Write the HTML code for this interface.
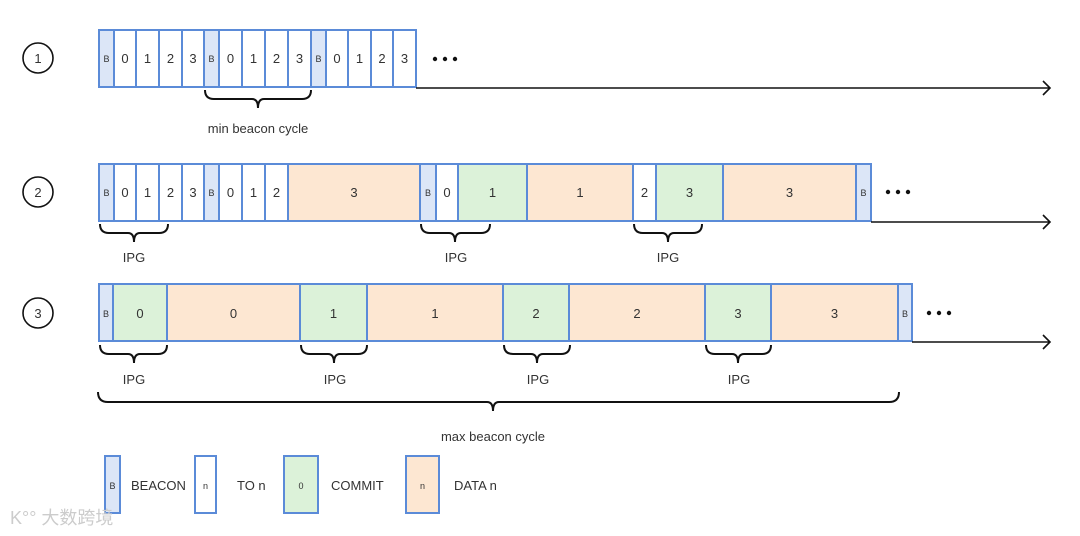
<!DOCTYPE html><html><head><meta charset="utf-8"><style>body{margin:0;background:#fff}svg{display:block}text{font-family:"Liberation Sans",sans-serif;fill:#333}</style></head><body>
<svg width="1080" height="536" viewBox="0 0 1080 536" xmlns="http://www.w3.org/2000/svg">
<defs><style>.c{stroke:#5b8bd8;stroke-width:2}.b{fill:#dce6f7}.w{fill:#fff}.g{fill:#dcf2d9}.o{fill:#fde7d2}.t{font-size:13px;text-anchor:middle}.s{font-size:9px;text-anchor:middle}.br{fill:none;stroke:#111;stroke-width:2}.ax{stroke:#111;stroke-width:1.6;fill:none}</style></defs>
<g fill="none" stroke="#111" stroke-width="1.6"><circle cx="38" cy="58" r="15"/><circle cx="38" cy="192" r="15"/><circle cx="38" cy="313" r="15"/></g>
<text x="38" y="63" class="t">1</text><text x="38" y="197" class="t">2</text><text x="38" y="318" class="t">3</text>
<!-- row1 -->
<g class="c">
<rect x="99" y="30" width="15" height="57" class="b"/><rect x="114" y="30" width="22" height="57" class="w"/><rect x="136" y="30" width="23" height="57" class="w"/><rect x="159" y="30" width="23" height="57" class="w"/><rect x="182" y="30" width="22" height="57" class="w"/>
<rect x="204" y="30" width="15" height="57" class="b"/><rect x="219" y="30" width="23" height="57" class="w"/><rect x="242" y="30" width="23" height="57" class="w"/><rect x="265" y="30" width="23" height="57" class="w"/><rect x="288" y="30" width="23" height="57" class="w"/>
<rect x="311" y="30" width="15" height="57" class="b"/><rect x="326" y="30" width="22" height="57" class="w"/><rect x="348" y="30" width="23" height="57" class="w"/><rect x="371" y="30" width="22" height="57" class="w"/><rect x="393" y="30" width="23" height="57" class="w"/>
</g>
<text x="106.5" y="62" class="s">B</text><text x="125" y="63" class="t">0</text><text x="147.5" y="63" class="t">1</text><text x="170.5" y="63" class="t">2</text><text x="193" y="63" class="t">3</text>
<text x="211.5" y="62" class="s">B</text><text x="230.5" y="63" class="t">0</text><text x="253.5" y="63" class="t">1</text><text x="276.5" y="63" class="t">2</text><text x="299.5" y="63" class="t">3</text>
<text x="318.5" y="62" class="s">B</text><text x="337" y="63" class="t">0</text><text x="359.5" y="63" class="t">1</text><text x="382" y="63" class="t">2</text><text x="404.5" y="63" class="t">3</text>
<g fill="#111"><circle cx="435" cy="59" r="2.2"/><circle cx="445" cy="59" r="2.2"/><circle cx="455" cy="59" r="2.2"/></g>
<path class="ax" d="M416 88 H1050 M1043 81 L1050 88 L1043 95"/>
<path class="br" d="M205 90 q0 9 9 9 H252 q6 0 6 9 q0 -9 6 -9 H302 q9 0 9 -9"/>
<text x="258" y="133" class="t">min beacon cycle</text>
<!-- row2 -->
<g class="c">
<rect x="99" y="164" width="15" height="57" class="b"/><rect x="114" y="164" width="22" height="57" class="w"/><rect x="136" y="164" width="23" height="57" class="w"/><rect x="159" y="164" width="23" height="57" class="w"/><rect x="182" y="164" width="22" height="57" class="w"/>
<rect x="204" y="164" width="15" height="57" class="b"/><rect x="219" y="164" width="23" height="57" class="w"/><rect x="242" y="164" width="23" height="57" class="w"/><rect x="265" y="164" width="23" height="57" class="w"/>
<rect x="288" y="164" width="132" height="57" class="o"/><rect x="420" y="164" width="16" height="57" class="b"/><rect x="436" y="164" width="22" height="57" class="w"/><rect x="458" y="164" width="69" height="57" class="g"/><rect x="527" y="164" width="106" height="57" class="o"/><rect x="633" y="164" width="23" height="57" class="w"/><rect x="656" y="164" width="67" height="57" class="g"/><rect x="723" y="164" width="133" height="57" class="o"/><rect x="856" y="164" width="15" height="57" class="b"/>
</g>
<text x="106.5" y="196" class="s">B</text><text x="125" y="197" class="t">0</text><text x="147.5" y="197" class="t">1</text><text x="170.5" y="197" class="t">2</text><text x="193" y="197" class="t">3</text>
<text x="211.5" y="196" class="s">B</text><text x="230.5" y="197" class="t">0</text><text x="253.5" y="197" class="t">1</text><text x="276.5" y="197" class="t">2</text>
<text x="354" y="197" class="t">3</text><text x="428" y="196" class="s">B</text><text x="447" y="197" class="t">0</text><text x="492.5" y="197" class="t">1</text><text x="580" y="197" class="t">1</text><text x="644.5" y="197" class="t">2</text><text x="689.5" y="197" class="t">3</text><text x="789.5" y="197" class="t">3</text><text x="863.5" y="196" class="s">B</text>
<g fill="#111"><circle cx="888" cy="192" r="2.2"/><circle cx="898" cy="192" r="2.2"/><circle cx="908" cy="192" r="2.2"/></g>
<path class="ax" d="M871 222 H1050 M1043 215 L1050 222 L1043 229"/>
<path class="br" d="M100 224 q0 9 9 9 H128 q6 0 6 9 q0 -9 6 -9 H159 q9 0 9 -9"/>
<path class="br" d="M421 224 q0 9 9 9 H449 q6 0 6 9 q0 -9 6 -9 H481 q9 0 9 -9"/>
<path class="br" d="M634 224 q0 9 9 9 H662 q6 0 6 9 q0 -9 6 -9 H693 q9 0 9 -9"/>
<text x="134" y="262" class="t">IPG</text><text x="456" y="262" class="t">IPG</text><text x="668" y="262" class="t">IPG</text>
<!-- row3 -->
<g class="c">
<rect x="99" y="284" width="14" height="57" class="b"/><rect x="113" y="284" width="54" height="57" class="g"/><rect x="167" y="284" width="133" height="57" class="o"/><rect x="300" y="284" width="67" height="57" class="g"/><rect x="367" y="284" width="136" height="57" class="o"/><rect x="503" y="284" width="66" height="57" class="g"/><rect x="569" y="284" width="136" height="57" class="o"/><rect x="705" y="284" width="66" height="57" class="g"/><rect x="771" y="284" width="127" height="57" class="o"/><rect x="898" y="284" width="14" height="57" class="b"/>
</g>
<text x="106" y="317" class="s">B</text><text x="140" y="318" class="t">0</text><text x="233.5" y="318" class="t">0</text><text x="333.5" y="318" class="t">1</text><text x="435" y="318" class="t">1</text><text x="536" y="318" class="t">2</text><text x="637" y="318" class="t">2</text><text x="738" y="318" class="t">3</text><text x="834.5" y="318" class="t">3</text><text x="905" y="317" class="s">B</text>
<g fill="#111"><circle cx="929" cy="313" r="2.2"/><circle cx="939" cy="313" r="2.2"/><circle cx="949" cy="313" r="2.2"/></g>
<path class="ax" d="M912 342 H1050 M1043 335 L1050 342 L1043 349"/>
<path class="br" d="M100 345 q0 9 9 9 H128 q6 0 6 9 q0 -9 6 -9 H158 q9 0 9 -9"/>
<path class="br" d="M301 345 q0 9 9 9 H328 q6 0 6 9 q0 -9 6 -9 H358 q9 0 9 -9"/>
<path class="br" d="M504 345 q0 9 9 9 H531 q6 0 6 9 q0 -9 6 -9 H561 q9 0 9 -9"/>
<path class="br" d="M706 345 q0 9 9 9 H732 q6 0 6 9 q0 -9 6 -9 H762 q9 0 9 -9"/>
<text x="134" y="384" class="t">IPG</text><text x="335" y="384" class="t">IPG</text><text x="538" y="384" class="t">IPG</text><text x="739" y="384" class="t">IPG</text>
<path class="br" d="M98 392 q0 10 10 10 H487 q6 0 6 9 q0 -9 6 -9 H889 q10 0 10 -10"/>
<text x="493" y="441" class="t">max beacon cycle</text>
<!-- legend -->
<g class="c"><rect x="105" y="456" width="15" height="57" class="b"/><rect x="195" y="456" width="21" height="57" class="w"/><rect x="284" y="456" width="34" height="57" class="g"/><rect x="406" y="456" width="33" height="57" class="o"/></g>
<text x="112.5" y="489" class="s">B</text><text x="205.5" y="489" class="s">n</text><text x="301" y="489" class="s">0</text><text x="422.5" y="489" class="s">n</text>
<text x="131" y="490" font-size="13">BEACON</text><text x="237" y="490" font-size="13">TO n</text><text x="331" y="490" font-size="13">COMMIT</text><text x="454" y="490" font-size="13">DATA n</text>
<text x="10" y="524" font-size="18" style="fill:#ccc;font-family:'Liberation Sans','Noto Sans CJK SC',sans-serif">K°° 大数跨境</text>
</svg></body></html>
